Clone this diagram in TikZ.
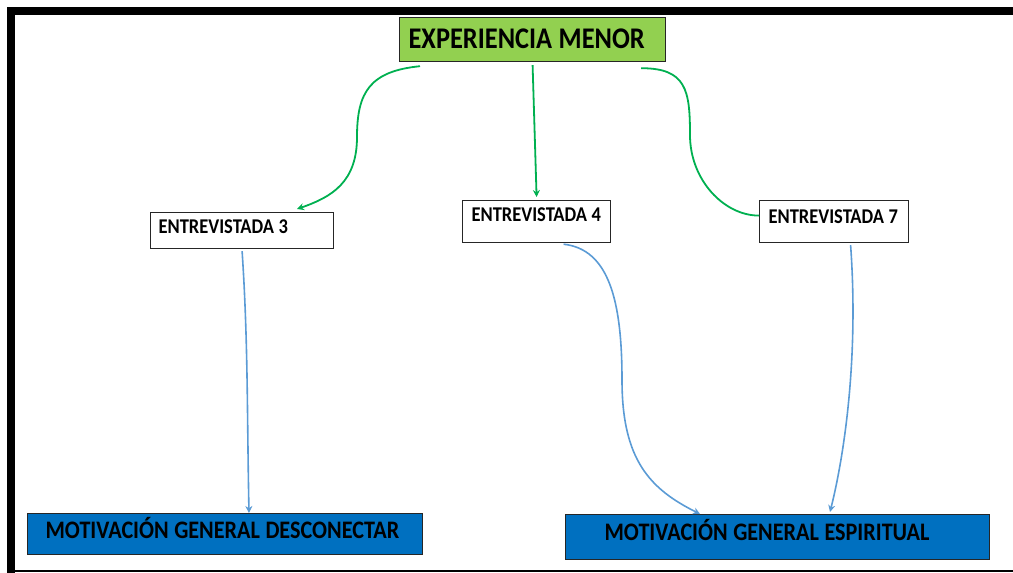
\documentclass[tikz,border=0pt]{standalone}
\usepackage{fontspec}
\setmainfont{Carlito}[FakeStretch=0.88]
\usepackage{tikz}
\usetikzlibrary{positioning,
                arrows.meta}                % arrow tips

\definecolor{verdecaja}{HTML}{92D050}
\definecolor{azulcaja}{HTML}{0070C0}
\definecolor{verdelinea}{HTML}{00B050}
\definecolor{azullinea}{HTML}{5B9BD5}

\tikzset{
  caja/.style={draw=black!85, line width=0.6pt, anchor=north west, inner ysep=0pt,
               align=flush left, execute at begin node={\spaceskip=0.22em\relax}},
  flechaverde/.style={verdelinea, line width=0.9pt, -{Stealth[length=3.5pt,width=3.5pt]}},
  flechaazul/.style={azullinea, line width=0.8pt, -{Stealth[length=3.5pt,width=3.5pt]}}
}

\begin{document}
\begin{tikzpicture}[x=0.5pt, y=-0.5pt]
      \useasboundingbox (0,0) rectangle (1013,573);
      % marco
      \draw[line width=4pt] (7,11) -- (1013,11);
      \draw[line width=4pt] (11,7) -- (11,573);
      \draw[line width=1.2pt] (7,571) -- (1013,571);

      \node[caja, fill=verdecaja, inner xsep=4.5pt, text width=124pt,
            text height=15.5pt, text depth=6.5pt,
            font=\bfseries\fontsize{15}{16}\selectfont] (exp) at (399,17) {EXPERIENCIA MENOR};

      \node[caja, fill=white, inner xsep=4pt, text width=83.5pt,
            text height=10.5pt, text depth=7.5pt,
            font=\bfseries\fontsize{10.5}{12}\selectfont] (e3) at (150,212) {ENTREVISTADA 3};
      \node[caja, fill=white, inner xsep=4.5pt, text width=65pt,
            text height=10.5pt, text depth=10.5pt,
            font=\bfseries\fontsize{10.5}{12}\selectfont] (e4) at (462,200) {ENTREVISTADA 4};
      \node[caja, fill=white, inner xsep=4.5pt, text width=65.5pt,
            text height=11.5pt, text depth=9.5pt,
            font=\bfseries\fontsize{10.5}{12}\selectfont] (e7) at (759,200) {ENTREVISTADA 7};

      \node[caja, fill=azulcaja, inner xsep=9pt, text width=179.5pt,
            text height=12.5pt, text depth=8pt,
            font=\bfseries\fontsize{12.6}{14}\selectfont] (m1) at (27,513) {MOTIVACIÓN GENERAL DESCONECTAR};
      \node[caja, fill=azulcaja, inner xsep=19.5pt, text width=173pt,
            text height=13pt, text depth=9.5pt,
            font=\bfseries\fontsize{12.6}{14}\selectfont] (m2) at (565,514) {MOTIVACIÓN GENERAL ESPIRITUAL};

      % conectores verdes
      \coordinate (c1) at (357,137);
      \coordinate (c3) at (690,135);
      \draw[flechaverde] ([xshift=10.5pt,yshift=-2pt]exp.south west)
            .. controls +(-50,5) and +(0,-45) .. (c1)
            .. controls +(0,45) and +(35,-12) .. ([xshift=73.5pt,yshift=1.5pt]e3.north west);
      \draw[flechaverde] ([yshift=-1.5pt]exp.south) -- ([yshift=1.5pt]e4.north);
      \draw[verdelinea, line width=0.9pt] ([xshift=-12.5pt,yshift=-3pt]exp.south east)
            .. controls +(45,0) and +(0,-45) .. (c3)
            .. controls +(0,45) and +(-35,0) .. ([yshift=3pt]e7.west);

      % conectores azules
      \coordinate (c2) at (622,380);
      \draw[flechaazul] ([yshift=-1pt]e3.south) .. controls +(6,90) and +(-2,-100) .. ([xshift=111pt]m1.north west);
      \draw[flechaazul] ([xshift=13.5pt,yshift=-0.5pt]e4.south)
            .. controls +(45,5) and +(0,-80) .. (c2)
            .. controls +(0,80) and +(-50,-25) .. ([xshift=67.5pt]m2.north west);
      \draw[flechaazul] ([xshift=8.25pt,yshift=-1pt]e7.south) .. controls +(8,110) and +(15,-60) .. ([xshift=132.5pt,yshift=1pt]m2.north west);

    \end{tikzpicture}
\end{document}
